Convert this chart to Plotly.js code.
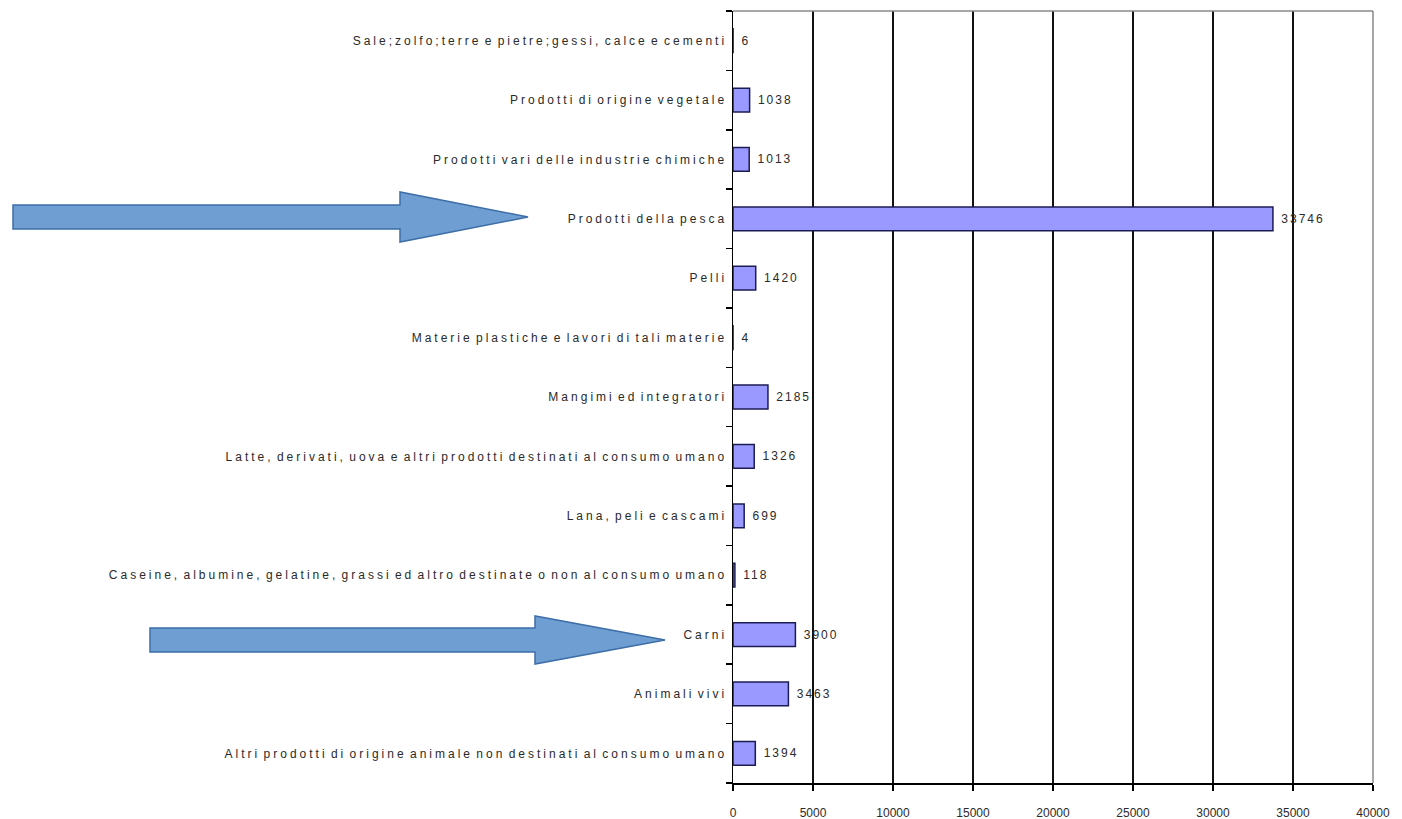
<!DOCTYPE html>
<html>
<head>
<meta charset="utf-8">
<script src="https://cdn.plot.ly/plotly-3.0.1.min.js"></script>
<style>
html, body { margin: 0; padding: 0; background: #fff; }
#chart { width: 1402px; height: 819px; }
.ytick text { letter-spacing: 3px; word-spacing: -3px; }
text.bartext { letter-spacing: 2px; }
</style>
</head>
<body>
<div id="chart"></div>
<script>
// Categories listed bottom to top
const categories = [
  "Altri prodotti di origine animale non destinati al consumo umano",
  "Animali vivi",
  "Carni",
  "Caseine, albumine, gelatine, grassi ed altro destinate o non al consumo umano",
  "Lana, peli e cascami",
  "Latte, derivati, uova e altri prodotti destinati al consumo umano",
  "Mangimi ed integratori",
  "Materie plastiche e lavori di tali materie",
  "Pelli",
  "Prodotti della pesca",
  "Prodotti vari delle industrie chimiche",
  "Prodotti di origine vegetale",
  "Sale;zolfo;terre e pietre;gessi, calce e cementi"
];
const values = [1394, 3463, 3900, 118, 699, 1326, 2185, 4, 1420, 33746, 1013, 1038, 6];
const xTicks = [0, 5000, 10000, 15000, 20000, 25000, 30000, 35000, 40000];

const W = 1402, H = 819;
const M = { l: 733, r: 29, t: 11, b: 36 };
const PW = W - M.l - M.r, PH = H - M.t - M.b;
const px = x => (x - M.l) / PW;
const py = y => 1 - (y - M.t) / PH;

// Arrow decorations (pixel geometry), converted to paper coordinates
function arrowPath(x0, shaftEnd, tip, cy, shaftHalf, headHalf) {
  const pts = [
    [x0, cy - shaftHalf], [shaftEnd, cy - shaftHalf], [shaftEnd, cy - headHalf],
    [tip, cy], [shaftEnd, cy + headHalf], [shaftEnd, cy + shaftHalf], [x0, cy + shaftHalf]
  ];
  return 'M' + pts.map(p => px(p[0]).toFixed(5) + ',' + py(p[1]).toFixed(5)).join(' L') + ' Z';
}
const arrowStyle = { fillcolor: '#6f9fd2', line: { color: '#3e6ea8', width: 1.5 } };

const shapes = [
  Object.assign({ type: 'path', xref: 'paper', yref: 'paper', path: arrowPath(13, 400, 528, 217, 12, 25) }, arrowStyle),
  Object.assign({ type: 'path', xref: 'paper', yref: 'paper', path: arrowPath(150, 535, 665, 640, 12, 24) }, arrowStyle),
  { type: 'line', xref: 'paper', yref: 'paper', x0: 0, x1: 1, y0: 1, y1: 1, line: { color: '#8a8a8a', width: 1.5 }, layer: 'above' },
  { type: 'line', xref: 'paper', yref: 'paper', x0: 1, x1: 1, y0: 0, y1: 1, line: { color: '#8a8a8a', width: 1.5 }, layer: 'above' }
];

const trace = {
  type: 'bar',
  orientation: 'h',
  y: categories,
  x: values,
  text: values.map(v => ' ' + v),
  textposition: 'outside',
  cliponaxis: false,
  textfont: { family: 'Liberation Sans, Arial, sans-serif', size: 12, color: '#2a2a2a' },
  marker: { color: '#9999ff', line: { color: '#1c1c55', width: 1.5 } },
  hoverinfo: 'x+y'
};

const layout = {
  width: W, height: H,
  margin: M,
  paper_bgcolor: '#ffffff',
  plot_bgcolor: '#ffffff',
  showlegend: false,
  bargap: 0.6,
  font: { family: 'Liberation Sans, Arial, sans-serif', size: 12, color: '#2a2a2a' },
  xaxis: {
    range: [0, 40000],
    tickvals: xTicks,
    ticktext: xTicks.map(String),
    showgrid: true, gridcolor: '#111', gridwidth: 2,
    zeroline: false,
    showline: true, linecolor: '#000', linewidth: 1.5,
    ticks: 'outside', ticklen: 6, tickcolor: '#000', tickwidth: 1.5,
    ticklabelstandoff: 12,
    tickfont: { size: 12, color: '#2a2a2a' }
  },
  yaxis: {
    type: 'category',
    categoryorder: 'array',
    categoryarray: categories,
    showgrid: false,
    zeroline: false,
    showline: true, linecolor: '#000', linewidth: 1.5,
    ticks: 'outside', ticklen: 6, tickcolor: '#000', tickwidth: 1.5,
    tickson: 'boundaries',
    ticklabelstandoff: 2,
    tickfont: { size: 12, color: '#2a2a2a' }
  },
  shapes: shapes
};

Plotly.newPlot('chart', [trace], layout, { displayModeBar: false, staticPlot: true });
</script>
</body>
</html>
